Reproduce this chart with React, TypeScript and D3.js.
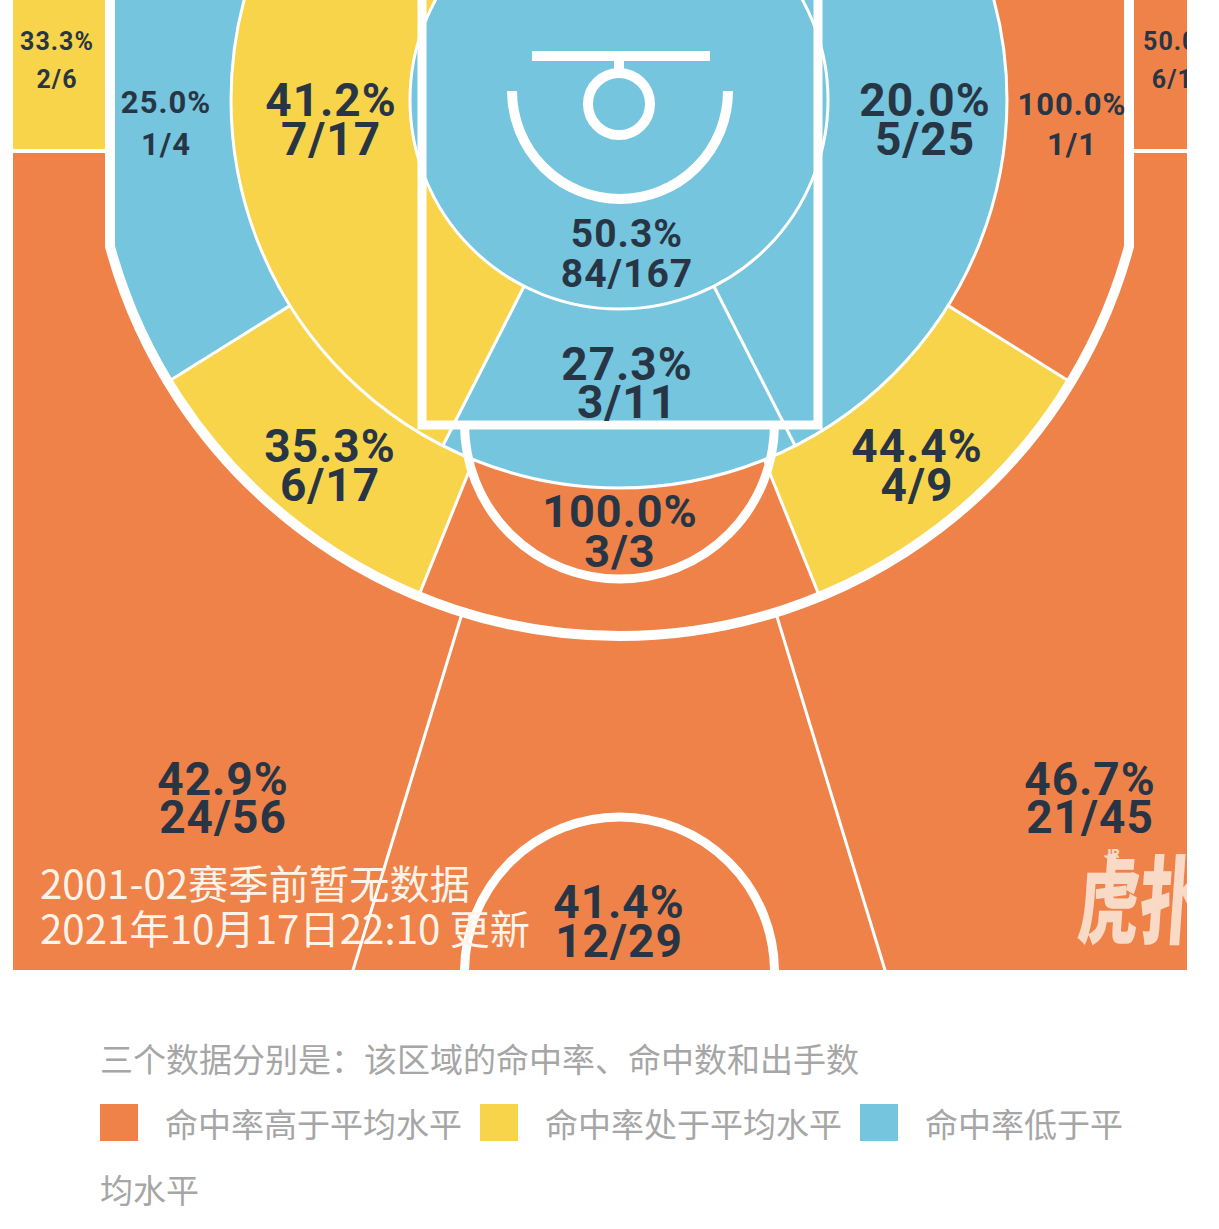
import React from 'react';
import * as d3 from 'd3';

// ---------- data ----------
const zoneNames = [
  '左侧底角三分', '右侧底角三分', '左侧三分', '正面三分', '右侧三分',
  '左侧中距离(远)', '左侧45°中距离', '正面中距离', '右侧45°中距离', '右侧中距离(远)',
  '左侧中距离(近)', '罚球区', '右侧中距离(近)', '篮下',
];
const zoneMade = [2, 6, 24, 12, 21, 1, 6, 3, 4, 1, 7, 3, 5, 84];
const zoneAttempts = [6, 12, 56, 29, 45, 4, 17, 3, 9, 1, 17, 11, 25, 167];
const zoneLevel = ['avg', 'high', 'high', 'high', 'high', 'low', 'avg', 'high', 'avg', 'high', 'avg', 'low', 'low', 'low'];
const levelKeys = ['high', 'avg', 'low'];
const levelLabels = ['命中率高于平均水平', '命中率处于平均水平', '命中率低于平均水平'];
const noteText = '三个数据分别是：该区域的命中率、命中数和出手数';
const infoLines = ['2001-02赛季前暂无数据', '2021年10月17日22:10 更新'];

// ---------- layout (geometry, not data) ----------
// ring: 'cornerL' | 'cornerR' | 'outside' | 'outer' | 'inner' | 'core'; angles in degrees (d3 convention: 0 = up, clockwise)
const zoneGeom: any[] = [
  { ring: 'cornerL' }, { ring: 'cornerR' },
  { ring: 'outside', a0: 197, a1: 360 }, { ring: 'outside', a0: 163, a1: 197 }, { ring: 'outside', a0: 0, a1: 163 },
  { ring: 'outer', a0: 238, a1: 360 }, { ring: 'outer', a0: 202, a1: 238 }, { ring: 'outer', a0: 158, a1: 202 },
  { ring: 'outer', a0: 122, a1: 158 }, { ring: 'outer', a0: 0, a1: 122 },
  { ring: 'inner', a0: 207, a1: 360 }, { ring: 'inner', a0: 153, a1: 207 }, { ring: 'inner', a0: 0, a1: 153 },
  { ring: 'core' },
];
const labelPos: any[] = [
  { x: 57, y: 50, fs: 25, lh: 38 },
  { x: 1180, y: 50, fs: 25, lh: 38 },
  { x: 223, y: 795, fs: 46, lh: 38 },
  { x: 619, y: 918, fs: 46, lh: 39 },
  { x: 1090, y: 795, fs: 46, lh: 38 },
  { x: 166, y: 113, fs: 31, lh: 42 },
  { x: 330, y: 462, fs: 46, lh: 39 },
  { x: 620, y: 527, fs: 45, lh: 40 },
  { x: 917, y: 462, fs: 46, lh: 39 },
  { x: 1072, y: 115, fs: 31, lh: 40 },
  { x: 331, y: 116, fs: 46, lh: 39 },
  { x: 627, y: 380, fs: 46, lh: 38 },
  { x: 925, y: 116, fs: 46, lh: 39 },
  { x: 627, y: 247, fs: 39, lh: 40 },
];

const COLORS = { high: '#EE8248', avg: '#F8D44A', low: '#74C5DD' } as any;
const TEXT = '#283545';
const NUMFONT = 'Roboto, "DejaVu Sans", sans-serif';
const CJK = '"Noto Sans CJK SC", "Noto Sans", sans-serif';

export default function App() {
  const W = 1219, H = 1229;
  const court = { x0: 13, x1: 1187, y0: 0, y1: 970 };
  const C = { x: 619, y: 100 };
  const R0 = 209, R1 = 388, BIG = 1400;
  const three = { cx: 619.5, cy: 108, r: 528, xl: 110, xr: 1129 };
  const rad = (d: number) => (d * Math.PI) / 180;
  const color = d3.scaleOrdinal<string, string>().domain(levelKeys).range(levelKeys.map((k) => COLORS[k]));
  const fmt = d3.format('.1f');

  const yj = three.cy + Math.sqrt(three.r ** 2 - (three.cx - three.xl) ** 2);
  const aL = Math.atan2(yj - three.cy, three.xl - three.cx);
  const aR = Math.atan2(yj - three.cy, three.xr - three.cx);
  const threeLine = d3.path();
  threeLine.moveTo(three.xl, -20);
  threeLine.lineTo(three.xl, yj);
  threeLine.arc(three.cx, three.cy, three.r, aL, aR, true);
  threeLine.lineTo(three.xr, -20);
  const threeClip = threeLine.toString() + 'Z';

  const arc = d3.arc<any>();
  const sector = (g: any, r0: number, r1: number) =>
    arc({ innerRadius: r0, outerRadius: r1, startAngle: rad(g.a0), endAngle: rad(g.a1) }) as string;
  const pt = (aDeg: number, r: number) => [C.x + r * Math.sin(rad(aDeg)), C.y - r * Math.cos(rad(aDeg))];
  const radial = (aDeg: number, r0: number, r1: number) => {
    const p = d3.path();
    const a = pt(aDeg, r0), b = pt(aDeg, r1);
    p.moveTo(a[0], a[1]);
    p.lineTo(b[0], b[1]);
    return p.toString();
  };
  const boundaries = (ring: string) => {
    const s = new Set<number>();
    zoneGeom.forEach((g) => {
      if (g.ring === ring) {
        if (g.a0 % 360 !== 0) s.add(g.a0);
        if (g.a1 % 360 !== 0) s.add(g.a1);
      }
    });
    return Array.from(s);
  };

  const idx = zoneGeom.map((_, i) => i);
  const fill = (i: number) => color(zoneLevel[i]);

  const ra = d3.path();
  ra.arc(620, 91, 108, 0, Math.PI, false);
  const ft = d3.path();
  ft.arc(619.5, 424, 155, 0, Math.PI, false);
  const cc = d3.path();
  cc.arc(619.5, 972, 155, Math.PI, 2 * Math.PI, false);

  const legFs = 33;
  const legendItems: any[] = [];
  let lx = 100;
  const wrapLimit = 1135;
  const extraLines: string[] = [];
  levelKeys.forEach((k, i) => {
    const tx = lx + 65;
    const label = levelLabels[i];
    const fit = Math.floor((wrapLimit - tx) / legFs);
    const first = label.slice(0, fit);
    const rest = label.slice(fit);
    legendItems.push({ k, x: lx, tx, text: first });
    if (rest) extraLines.push(rest);
    lx = tx + first.length * legFs + 18;
  });

  return (
    <div style={{ position: 'absolute', left: 0, top: 0, width: W, height: H, background: '#fff' }}>
      <svg width={W} height={H} viewBox={`0 0 ${W} ${H}`} style={{ display: 'block' }}>
        <defs>
          <clipPath id="courtClip">
            <rect x={court.x0} y={court.y0} width={court.x1 - court.x0} height={court.y1 - court.y0} />
          </clipPath>
          <clipPath id="threeClip">
            <path d={threeClip} />
          </clipPath>
        </defs>
        <rect x={0} y={0} width={W} height={H} fill="#fff" />
        <g clipPath="url(#courtClip)">
          <g transform={`translate(${C.x},${C.y})`}>
            {idx.filter((i) => zoneGeom[i].ring === 'outside').map((i) => (
              <path key={'o' + i} d={sector(zoneGeom[i], 0, BIG)} fill={fill(i)} />
            ))}
          </g>
          <rect x={court.x0} y={court.y0} width={three.xl - court.x0} height={151} fill={fill(0)} />
          <rect x={three.xr} y={court.y0} width={court.x1 - three.xr + 60} height={151} fill={fill(1)} />
          {boundaries('outside').map((a) => (
            <path key={'ol' + a} d={radial(a, 300, BIG)} stroke="#fff" strokeWidth={3} fill="none" />
          ))}
          <line x1={court.x0} x2={three.xl} y1={151} y2={151} stroke="#fff" strokeWidth={4} />
          <line x1={three.xr} x2={court.x1 + 60} y1={151} y2={151} stroke="#fff" strokeWidth={4} />

          <g clipPath="url(#threeClip)">
            <g transform={`translate(${C.x},${C.y})`}>
              {idx.filter((i) => zoneGeom[i].ring === 'outer').map((i) => (
                <path key={'m' + i} d={sector(zoneGeom[i], 0, BIG)} fill={fill(i)} />
              ))}
              {idx.filter((i) => zoneGeom[i].ring === 'inner').map((i) => (
                <path key={'n' + i} d={sector(zoneGeom[i], 0, R1)} fill={fill(i)} />
              ))}
              {idx.filter((i) => zoneGeom[i].ring === 'core').map((i) => (
                <circle key={'c' + i} r={R0} fill={fill(i)} />
              ))}
              <circle r={R1} fill="none" stroke="#fff" strokeWidth={3} />
              <circle r={R0} fill="none" stroke="#fff" strokeWidth={3} />
            </g>
            {boundaries('outer').map((a) => (
              <path key={'ml' + a} d={radial(a, R1, BIG)} stroke="#fff" strokeWidth={3} fill="none" />
            ))}
            {boundaries('inner').map((a) => (
              <path key={'nl' + a} d={radial(a, R0, R1)} stroke="#fff" strokeWidth={3} fill="none" />
            ))}
          </g>

          <path d={threeLine.toString()} fill="none" stroke="#fff" strokeWidth={10} />
          <rect x={422} y={-20} width={396} height={445} fill="none" stroke="#fff" strokeWidth={9} />
          <path d={ft.toString()} fill="none" stroke="#fff" strokeWidth={9} />
          <path d={ra.toString()} fill="none" stroke="#fff" strokeWidth={10} />
          <line x1={532} x2={710} y1={56} y2={56} stroke="#fff" strokeWidth={10} />
          <line x1={619} x2={619} y1={56} y2={74} stroke="#fff" strokeWidth={10} />
          <circle cx={619} cy={104} r={31} fill="none" stroke="#fff" strokeWidth={10} />
          <path d={cc.toString()} fill="none" stroke="#fff" strokeWidth={9} />

          {idx.map((i) => {
            const p = labelPos[i];
            const pct = fmt((zoneMade[i] / zoneAttempts[i]) * 100) + '%';
            return (
              <text key={'t' + i} x={p.x} y={p.y} textAnchor="middle" fontFamily={NUMFONT} fontWeight={700}
                fontSize={p.fs} fill={TEXT} letterSpacing={1}>
                <tspan x={p.x} y={p.y}>{pct}</tspan>
                <tspan x={p.x} y={p.y + p.lh}>{`${zoneMade[i]}/${zoneAttempts[i]}`}</tspan>
              </text>
            );
          })}

          {infoLines.map((s, i) => (
            <text key={'info' + i} x={40} y={899 + i * 45} fontFamily={CJK} fontSize={40} fill="#FFF3EA"
              textLength={i === 0 ? 430 : 490} lengthAdjust="spacingAndGlyphs">{s}</text>
          ))}

          <g fill="#F8DAC6">
            <g transform="translate(1076,936) skewX(-4) scale(0.64,1)">
              <text x={0} y={0} fontFamily={CJK} fontWeight={900} fontSize={96}>虎扑</text>
            </g>
            <text x={1104} y={858} fontFamily={NUMFONT} fontWeight={900} fontSize={13}>JR</text>
          </g>
        </g>

        <text x={100} y={1072} fontFamily={CJK} fontSize={legFs} fill="#A6A6A6">{noteText}</text>
        {legendItems.map((it) => (
          <g key={'leg' + it.k}>
            <rect x={it.x} y={1104} width={38} height={37} fill={color(it.k)} />
            <text x={it.tx} y={1137} fontFamily={CJK} fontSize={legFs} fill="#A6A6A6">{it.text}</text>
          </g>
        ))}
        {extraLines.map((s, i) => (
          <text key={'ex' + i} x={100} y={1203 + i * 66} fontFamily={CJK} fontSize={legFs} fill="#A6A6A6">{s}</text>
        ))}
      </svg>
    </div>
  );
}
